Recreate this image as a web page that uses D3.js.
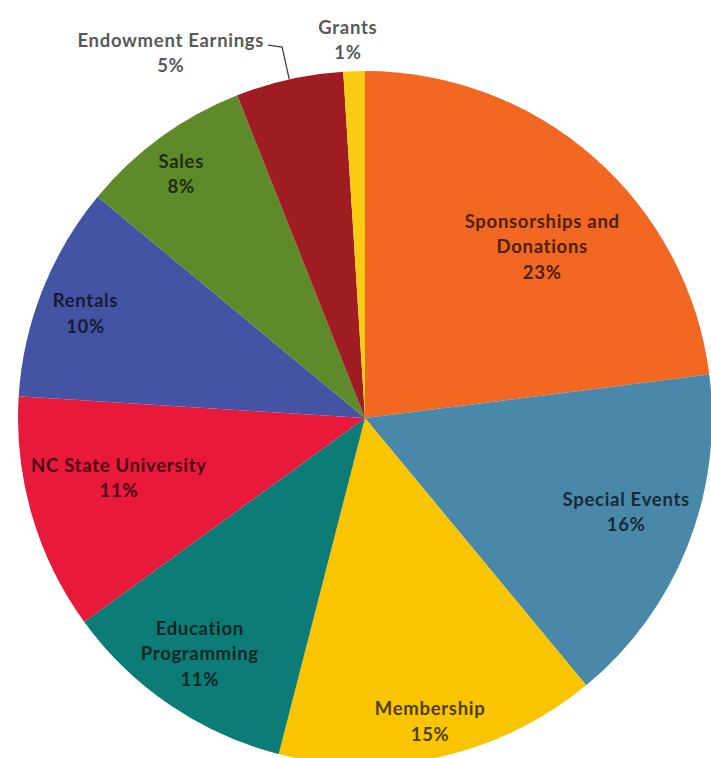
<!DOCTYPE html>
<html lang="en">
<meta charset="utf-8">
<script src="https://d3js.org/d3.v7.min.js"></script>
<style>
  body { margin: 0; background: #fff; }
  .lbl { font: bold 18.5px Lato, sans-serif; letter-spacing: 0.7px; text-anchor: middle; }
</style>
<svg id="base" width="711" height="758"></svg>

<script>
    // revenue sources, clockwise from 12 o'clock
    var categories = ["Sponsorships and Donations", "Special Events", "Membership",
        "Education Programming", "NC State University", "Rentals", "Sales",
        "Endowment Earnings", "Grants"];
    var values = [23, 16, 15, 11, 11, 10, 8, 5, 1];
    var labelLines = [["Sponsorships and", "Donations"], ["Special Events"], ["Membership"],
        ["Education", "Programming"], ["NC State University"], ["Rentals"], ["Sales"],
        ["Endowment  Earnings"], ["Grants"]];
    var colors = ["#F26722", "#4A88AA", "#F8C500", "#0E7C76", "#E8193A",
        "#4553A4", "#5F8A2A", "#9E1C22", "#F9CB12"];

    var cx = 365, cy = 418, radius = 347;
    var lineH = 25.5;
    // label placement: fraction of radius, angle nudge in degrees
    var labelR = [0.71, 0.80, 0.895, 0.83, 0.73, 0.86, 0.88, 0, 1.09];
    var labelNudge = [4.6, -1.8, 0.5, 0.8, 2.5, -1.1, -1, 0, -0.8];

    var svg = d3.select("#base");
    var g = svg.append("g").attr("transform", "translate(" + cx + "," + cy + ")");

    var color = d3.scaleOrdinal().domain(categories).range(colors);

    var pie = d3.pie().sort(null).value(function (d, i) { return values[i]; });
    var arcs = pie(categories);
    var arc = d3.arc().innerRadius(0).outerRadius(radius);

    g.selectAll("path")
        .data(arcs)
        .enter()
        .append("path")
        .attr("d", arc)
        .attr("fill", function (d) { return color(d.data); });

    function polar(a, r) {
        return [Math.sin(a) * r, -Math.cos(a) * r];
    }

    arcs.forEach(function (d, i) {
        var lines = labelLines[i].concat([values[i] + "%"]);
        var mid = (d.startAngle + d.endAngle) / 2;
        var outside = labelR[i] === 0 || labelR[i] > 1;
        var fill = outside ? "#595959" : d3.color(color(d.data)).darker(3.2).formatHex();
        var pos;

        if (labelR[i] === 0) {
            // leader line label (Endowment Earnings)
            var p0 = polar(mid, radius);
            var p1 = polar(mid, radius * 1.095);
            var p2 = [p1[0] - 14, p1[1] - 2];
            g.append("polyline")
                .attr("points", [p0, p1, p2].map(function (p) { return p.join(","); }).join(" "))
                .attr("fill", "none")
                .attr("stroke", "#404040")
                .attr("stroke-width", 1.3);
            var t = g.append("text").attr("class", "lbl").style("fill", fill);
            t.text(lines[0]);
            var w = t.node().getComputedTextLength();
            t.remove();
            pos = [p2[0] - 4 - w / 2, p2[1] + 8];
        } else {
            var a = mid + labelNudge[i] * Math.PI / 180;
            pos = polar(a, radius * labelR[i]);
        }

        var text = g.append("text")
            .attr("class", "lbl")
            .style("fill", fill);
        lines.forEach(function (s, j) {
            text.append("tspan")
                .attr("x", pos[0])
                .attr("y", pos[1] + (j - (lines.length - 1) / 2) * lineH)
                .attr("dy", "0.35em")
                .text(s);
        });
    });
</script>
</html>
